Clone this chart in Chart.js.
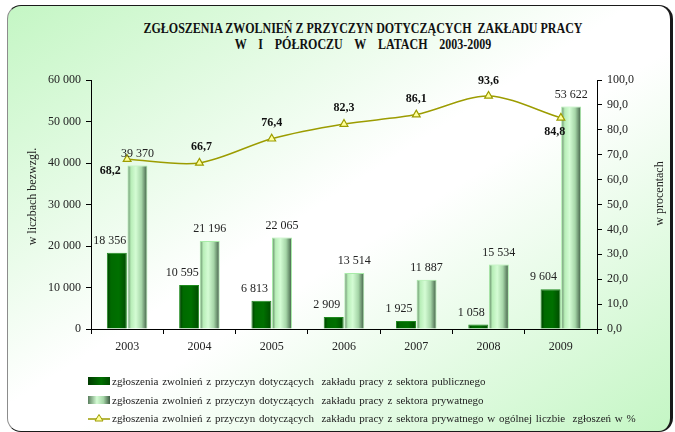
<!DOCTYPE html>
<html>
<head>
<meta charset="utf-8">
<script src="https://cdn.jsdelivr.net/npm/chart.js@4.4.1/dist/chart.umd.min.js"></script>
<style>
    html, body { margin: 0; padding: 0; background: #fff; }
    #wrap {
        position: relative; width: 675px; height: 432px; overflow: hidden;
        font-family: "Liberation Serif", "Times New Roman", serif; color: #222;
    }
    #frame {
        position: absolute; left: 7px; top: 5px; width: 666px; height: 427px;
        box-sizing: border-box; border: 1.5px solid #1a1a1a; border-left-color: #8c8c8c;
        border-right-width: 3px; border-radius: 14px;
        background: linear-gradient(to bottom right, #c4f6c4 0%, #ffffff 47%, #ffffff 55%, #c4f6c4 100%);
    }
    #title {
        position: absolute; left: 63px; top: 20px; width: 600px; text-align: center;
        font-weight: bold; font-size: 15px; line-height: 16px; color: #111;
        transform: scaleX(0.8); transform-origin: 300px 0;
    }
    #title .l2 { word-spacing: 11px; }
    #chart { position: absolute; left: 0; top: 0; }
    #legend {
        position: absolute; left: 88px; top: 372px; font-size: 11px; word-spacing: 1px;
    }
    #legend .row { height: 18.5px; display: flex; align-items: center; white-space: nowrap; }
    #legend .sw { width: 22px; height: 8px; margin-right: 2px; }
</style>
</head>
<body>
<div id="wrap">
    <div id="frame"></div>
    <div id="title">ZGŁOSZENIA ZWOLNIEŃ Z PRZYCZYN DOTYCZĄCYCH&nbsp; ZAKŁADU PRACY<br><span class="l2">W I PÓŁROCZU W LATACH 2003-2009</span></div>
    <canvas id="chart" width="675" height="432"></canvas>
    <div id="legend"></div>
</div>
<script>
// lata i wartości
const years = ['2003', '2004', '2005', '2006', '2007', '2008', '2009'];
const publicSector = [18356, 10595, 6813, 2909, 1925, 1058, 9604];
const privateSector = [39370, 21196, 22065, 13514, 11887, 15534, 53622];
const privateShare = [68.2, 66.7, 76.4, 82.3, 86.1, 93.6, 84.8];

const seriesNames = [
    'zgłoszenia zwolnień z przyczyn dotyczących  zakładu pracy z sektora publicznego',
    'zgłoszenia zwolnień z przyczyn dotyczących  zakładu pracy z sektora prywatnego',
    'zgłoszenia zwolnień z przyczyn dotyczących  zakładu pracy z sektora prywatnego w ogólnej liczbie  zgłoszeń w %'
];

const CAT_PCT = 0.57;
const BAR_PCT = 0.97;
const LINE_COLOR = '#9c9c00';
const FONT = '"Liberation Serif", "Times New Roman", serif';

const fmtThousands = v => String(v).replace(/\B(?=(\d{3})+(?!\d))/g, ' ');
const fmtPct = v => v.toFixed(1).replace('.', ',');

// gradient poziomy w obrębie słupka (pozycja liczona ze skali x)
function barGradient(ctx, slot, stops, fallback) {
    const chart = ctx.chart;
    const xs = chart.scales.x;
    if (!chart.chartArea || !xs) return fallback;
    const catW = xs.width / years.length;
    const slotW = catW * CAT_PCT / 2;
    const barW = slotW * BAR_PCT;
    const center = xs.getPixelForValue(ctx.dataIndex);
    const left = center - catW * CAT_PCT / 2 + slot * slotW + (slotW - barW) / 2;
    const g = chart.ctx.createLinearGradient(left, 0, left + barW, 0);
    stops.forEach(([p, c]) => g.addColorStop(p, c));
    return g;
}

const publicStops = [[0, '#003a00'], [0.2, '#006a00'], [0.6, '#007000'], [1, '#004a00']];
const privateStops = [[0, '#5a7f5e'], [0.18, '#b8eeb8'], [0.42, '#d4fcd4'], [0.7, '#a6d6a8'], [1, '#3d5a42']];

// etykiety wartości nad słupkami i przy punktach linii
const valueLabels = {
    id: 'valueLabels',
    afterDatasetsDraw(chart) {
        const ctx = chart.ctx;
        ctx.save();
        ctx.textAlign = 'center';
        ctx.textBaseline = 'middle';
        ctx.fillStyle = '#222';

        ctx.font = '12px ' + FONT;
        chart.getDatasetMeta(0).data.forEach((el, i) => {
            ctx.fillText(fmtThousands(publicSector[i]), el.x - 7, el.y - 12);
        });
        chart.getDatasetMeta(1).data.forEach((el, i) => {
            ctx.fillText(fmtThousands(privateSector[i]), el.x, el.y - 12);
        });

        const shift = [[-17, 12], [2, -16], [0, -16], [0, -16], [0, -16], [0, -15], [-6, 14]];
        ctx.font = 'bold 12px ' + FONT;
        ctx.fillStyle = '#111';
        chart.getDatasetMeta(2).data.forEach((el, i) => {
            ctx.fillText(fmtPct(privateShare[i]), el.x + shift[i][0], el.y + shift[i][1]);
        });
        ctx.restore();
    }
};

// tytuły osi obrócone o -90 stopni po obu stronach
const axisTitles = {
    id: 'axisTitles',
    afterDraw(chart) {
        const ctx = chart.ctx;
        const midY = (chart.chartArea.top + chart.chartArea.bottom) / 2;
        ctx.save();
        ctx.font = '12px ' + FONT;
        ctx.fillStyle = '#222';
        ctx.textAlign = 'center';
        ctx.textBaseline = 'middle';
        [[33, midY - 8, 'w liczbach bezwzgl.'], [660, midY - 11, 'w procentach']].forEach(([x, y, t]) => {
            ctx.save();
            ctx.translate(x, y);
            ctx.rotate(-Math.PI / 2);
            ctx.fillText(t, 0, 0);
            ctx.restore();
        });
        ctx.restore();
    }
};

const tickFont = { family: FONT, size: 12 };

new Chart(document.getElementById('chart'), {
    data: {
        labels: years,
        datasets: [
            {
                type: 'bar', label: seriesNames[0], data: publicSector, yAxisID: 'y', order: 1,
                backgroundColor: ctx => barGradient(ctx, 0, publicStops, '#006400'),
                borderColor: '#1f8a1f', borderWidth: 1,
                categoryPercentage: CAT_PCT, barPercentage: BAR_PCT
            },
            {
                type: 'bar', label: seriesNames[1], data: privateSector, yAxisID: 'y', order: 1,
                backgroundColor: ctx => barGradient(ctx, 1, privateStops, '#b8eeb8'),
                borderColor: '#a8eca8', borderWidth: 1,
                categoryPercentage: CAT_PCT, barPercentage: BAR_PCT
            },
            {
                type: 'line', label: seriesNames[2], data: privateShare, yAxisID: 'y1', order: 0,
                borderColor: LINE_COLOR, borderWidth: 1.5, tension: 0.3,
                pointStyle: 'triangle', pointRadius: 4.5, pointBorderWidth: 1.2,
                pointBackgroundColor: '#ffff9a', pointBorderColor: LINE_COLOR
            }
        ]
    },
    options: {
        responsive: false,
        devicePixelRatio: 1,
        animation: false,
        layout: { padding: { top: 80, left: 0, right: 0, bottom: 0 } },
        plugins: { legend: { display: false }, tooltip: { enabled: false } },
        scales: {
            x: {
                grid: { offset: true, drawOnChartArea: false, color: '#000', tickLength: 5 },
                border: { color: '#000', width: 1 },
                ticks: { color: '#222', font: tickFont, padding: 6 },
                afterFit: s => { s.height = 103; }
            },
            y: {
                position: 'left', min: 0, max: 60000,
                grid: { drawOnChartArea: false, color: '#000', tickLength: 5 },
                border: { color: '#000', width: 1 },
                ticks: { stepSize: 10000, color: '#222', font: tickFont, padding: 5, callback: v => fmtThousands(v) },
                afterFit: s => { s.width = 91; }
            },
            y1: {
                position: 'right', min: 0, max: 100,
                grid: { drawOnChartArea: false, color: '#000', tickLength: 5 },
                border: { color: '#000', width: 1 },
                ticks: { stepSize: 10, color: '#222', font: tickFont, padding: 5, callback: v => fmtPct(v) },
                afterFit: s => { s.width = 78; }
            }
        }
    },
    plugins: [valueLabels, axisTitles]
});

// legenda pod wykresem
const legend = document.getElementById('legend');
const swatches = [
    '<div class="sw" style="background:linear-gradient(to right,#003a00,#007000 60%,#004a00)"></div>',
    '<div class="sw" style="background:linear-gradient(to right,#5a7f5e,#d4fcd4 40%,#a6d6a8 70%,#3d5a42)"></div>',
    '<svg class="sw" width="22" height="10" style="height:10px"><line x1="0" y1="6" x2="22" y2="6" stroke="' + LINE_COLOR +
        '" stroke-width="1.5"/><polygon points="11,1.5 15,8 7,8" fill="#ffff9a" stroke="' + LINE_COLOR + '" stroke-width="1"/></svg>'
];
seriesNames.forEach((name, i) => {
    const row = document.createElement('div');
    row.className = 'row';
    row.innerHTML = swatches[i] + '<span></span>';
    row.querySelector('span').textContent = name;
    row.querySelector('span').style.whiteSpace = 'pre';
    legend.appendChild(row);
});
</script>
</body>
</html>
